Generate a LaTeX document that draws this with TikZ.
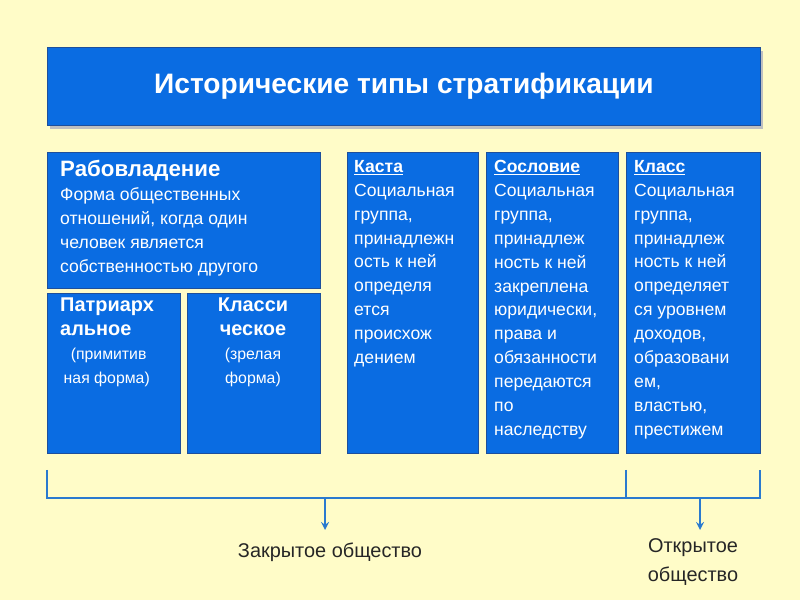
\documentclass[tikz,border=0pt]{standalone}
\usepackage{fontspec}
\setmainfont{Liberation Sans}
\usetikzlibrary{positioning}
\definecolor{bgyellow}{HTML}{FFFCC8}
\definecolor{boxblue}{HTML}{0A6CE2}
\definecolor{edgeblue}{HTML}{1D4F9C}
\definecolor{linkblue}{HTML}{2A7ACF}
\tikzstyle{panel} = [draw=edgeblue, fill=boxblue, line width=0.8pt]
\tikzstyle{body} = [text=white, align=left, anchor=north west, inner sep=0pt,
                    font=\fontsize{15}{20.4}\selectfont]
\tikzstyle{bracket} = [draw=linkblue, line width=2pt]
\tikzstyle{pointer} = [->, >=stealth, draw=linkblue, line width=2pt]
\newcommand{\headfont}{\fontsize{17}{23}\selectfont\bfseries}
\newcommand{\notefont}{\fontsize{13.5}{20.4}\selectfont\mdseries}

\begin{document}
\begin{tikzpicture}[x=0.03cm, y=-0.03cm]
  \fill[bgyellow] (0,0) rectangle (800,600);
  \useasboundingbox (0,0) rectangle (800,600);

  % title bar
  \fill[black!25] (50,51) rectangle (763,129);
  \node (title) [panel, minimum width=713*0.03cm, minimum height=78*0.03cm, anchor=north west,
        text=white, font=\fontsize{24}{28}\selectfont\bfseries] at (47,47)
        {Исторические типы стратификации};

  % boxes
  \draw[panel] (47,152) rectangle (320,288);
  \draw[panel] (47,293) rectangle (180,453);
  \draw[panel] (187,293) rectangle (320,453);
  \draw[panel] (347,152) rectangle (478,453);
  \draw[panel] (486,152) rectangle (618,453);
  \draw[panel] (626,152) rectangle (760,453);

  \node (slave) [body] at (60,160) {{\fontsize{19}{24}\selectfont\bfseries Рабовладение}\\
        Форма общественных\\отношений, когда один\\человек является\\собственностью другого};
  \node (patr) [body] at (60,298) {\headfont Патриарх\\\headfont альное\\
        \notefont\hspace*{9pt}(примитив\\\notefont\hspace*{3pt}ная форма)};
  \node (klass) [body, align=center, anchor=north] at (253,298)
        {\headfont Класси\\\headfont ческое\\\notefont (зрелая\\\notefont форма)};

  \node (caste) [body] at (354,160) {\textbf{\underline{Каста}}\\Социальная\\группа,\\принадлежн\\ость к ней\\определя\\ется\\происхож\\дением};
  \node (estate) [body] at (494,160) {\textbf{\underline{Сословие}}\\Социальная\\группа,\\принадлеж\\ность к ней\\закреплена\\юридически,\\права и\\обязанности\\передаются\\по\\наследству};
  \node (class) [body] at (634,160) {\textbf{\underline{Класс}}\\Социальная\\группа,\\принадлеж\\ность к ней\\определяет\\ся уровнем\\доходов,\\образовани\\ем,\\властью,\\престижем};

  % bracket and arrows
  \coordinate (bl) at (47,470);
  \coordinate (bm) at (626,470);
  \coordinate (br) at (760,470);
  \draw[bracket] (bl) |- (br |- 0,498) -- (br);
  \draw[bracket] (bm) -- (bm |- 0,498);
  \coordinate (ca) at (325,498);
  \coordinate (oa) at (700,498);
  \node (closed) [font=\fontsize{17}{20}\selectfont, text=black!85] at (330,552) {Закрытое общество};
  \node (open) [font=\fontsize{17}{24}\selectfont, text=black!85, align=center] at (693,562) {Открытое\\общество};
  \draw[pointer] (ca) -- (325,530);
  \draw[pointer] (oa) -- (700,530);
\end{tikzpicture}
\end{document}
